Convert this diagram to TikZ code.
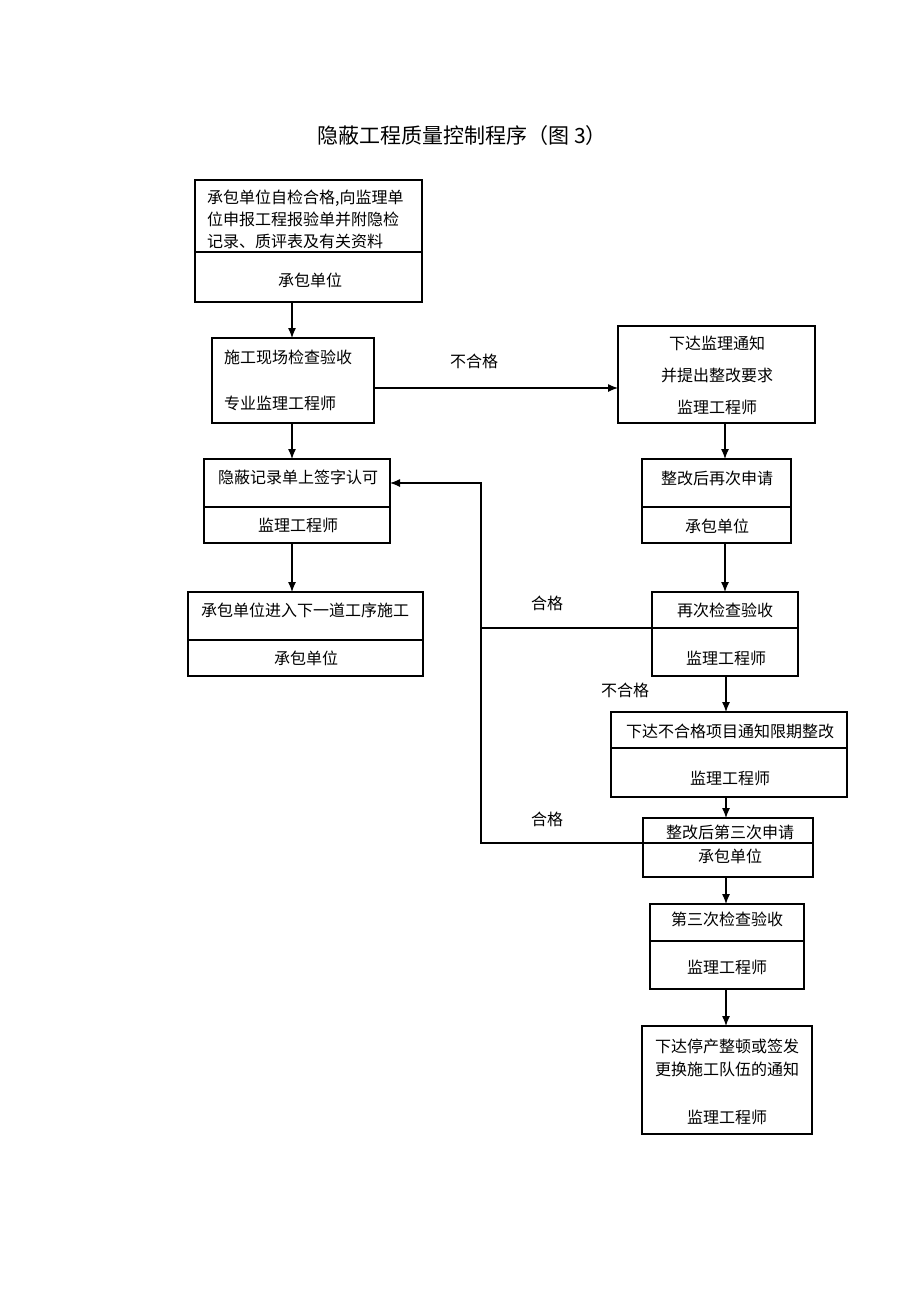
\documentclass[tikz,border=0pt]{standalone}
\usepackage{fontspec}
\newfontfamily\cjk{Noto Sans CJK SC}
\usetikzlibrary{arrows.meta}
\begin{document}
\begin{tikzpicture}[x=1pt,y=-1pt,
  box/.style={draw, line width=1.2pt, inner sep=0pt, outer sep=0pt, anchor=north west},
  txt/.style={inner sep=0pt, font=\cjk\fontsize{16}{22}\selectfont},
  lbl/.style={inner sep=0pt, font=\cjk\fontsize{16}{20}\selectfont},
  ttl/.style={inner sep=0pt, font=\cjk\fontsize{21}{24}\selectfont},
  conn/.style={line width=1.2pt},
  arr/.style={line width=1.2pt, -{Latex[length=10pt,width=8pt]}}]
\useasboundingbox (0,0) rectangle (920,1302);
% title
\node[ttl] (title) at (462,136) {隐蔽工程质量控制程序（图 3）};
% boxes
\node[box, minimum width=227pt, minimum height=122pt] (b1) at (195,180) {};
\node[box, minimum width=162pt, minimum height=85pt] (b2) at (212,338) {};
\node[box, minimum width=197pt, minimum height=97pt] (b3) at (618,326) {};
\node[box, minimum width=186pt, minimum height=84pt] (b4) at (204,459) {};
\node[box, minimum width=149pt, minimum height=84pt] (b5) at (642,459) {};
\node[box, minimum width=235pt, minimum height=84pt] (b6) at (188,592) {};
\node[box, minimum width=146pt, minimum height=84pt] (b7) at (652,592) {};
\node[box, minimum width=236pt, minimum height=85pt] (b8) at (611,712) {};
\node[box, minimum width=170pt, minimum height=59pt] (b9) at (643,818) {};
\node[box, minimum width=154pt, minimum height=85pt] (b10) at (650,904) {};
\node[box, minimum width=170pt, minimum height=108pt] (b11) at (642,1026) {};
% dividers
\coordinate (d1) at (0,252);
\coordinate (d4) at (0,507);
\coordinate (d6) at (0,640);
\coordinate (d7) at (0,628);
\coordinate (d8) at (0,748);
\coordinate (d9) at (0,843);
\coordinate (d10) at (0,941);
\draw[conn] (b1.west |- d1) -- (b1.east |- d1);
\draw[conn] (b4.west |- d4) -- (b4.east |- d4);
\draw[conn] (b5.west |- d4) -- (b5.east |- d4);
\draw[conn] (b6.west |- d6) -- (b6.east |- d6);
\draw[conn] (b7.west |- d7) -- (b7.east |- d7);
\draw[conn] (b8.west |- d8) -- (b8.east |- d8);
\draw[conn] (b9.west |- d9) -- (b9.east |- d9);
\draw[conn] (b10.west |- d10) -- (b10.east |- d10);
% texts
\node[txt, anchor=west, align=left] (t1a) at (207,219) {承包单位自检合格,向监理单\\位申报工程报验单并附隐检\\记录、质评表及有关资料};
\node[txt] (t1b) at (310,280) {承包单位};
\node[txt, anchor=west] (t2a) at (224,357) {施工现场检查验收};
\node[txt, anchor=west] (t2b) at (224,403) {专业监理工程师};
\node[txt] (t3a) at (717,343) {下达监理通知};
\node[txt] (t3b) at (717,375) {并提出整改要求};
\node[txt] (t3c) at (717,407) {监理工程师};
\node[txt] (t4a) at (298,477) {隐蔽记录单上签字认可};
\node[txt] (t4b) at (298,525) {监理工程师};
\node[txt] (t5a) at (717,478) {整改后再次申请};
\node[txt] (t5b) at (717,526) {承包单位};
\node[txt] (t6a) at (305,610) {承包单位进入下一道工序施工};
\node[txt] (t6b) at (306,658) {承包单位};
\node[txt] (t7a) at (725,610) {再次检查验收};
\node[txt] (t7b) at (726,658) {监理工程师};
\node[txt] (t8a) at (730,731) {下达不合格项目通知限期整改};
\node[txt] (t8b) at (730,778) {监理工程师};
\node[txt] (t9a) at (730,832) {整改后第三次申请};
\node[txt] (t9b) at (730,856) {承包单位};
\node[txt] (t10a) at (727,919) {第三次检查验收};
\node[txt] (t10b) at (727,967) {监理工程师};
\node[txt] (t11a) at (727,1046) {下达停产整顿或签发};
\node[txt] (t11b) at (727,1069) {更换施工队伍的通知};
\node[txt] (t11c) at (727,1117) {监理工程师};
% labels
\node[lbl] (l1) at (474,361) {不合格};
\node[lbl] (l2) at (547,603) {合格};
\node[lbl] (l3) at (625,690) {不合格};
\node[lbl] (l4) at (547,819) {合格};
% connector columns
\coordinate (cl) at (292,0);
\coordinate (cr) at (725,0);
\coordinate (cr2) at (726,0);
\coordinate (h1) at (0,388);
\draw[arr] (b1.south -| cl) -- (b2.north -| cl);
\draw[arr] (b2.south -| cl) -- (b4.north -| cl);
\draw[arr] (b4.south -| cl) -- (b6.north -| cl);
\draw[arr] (b2.east |- h1) -- (b3.west |- h1);
\draw[arr] (b3.south -| cr) -- (b5.north -| cr);
\draw[arr] (b5.south -| cr) -- (b7.north -| cr);
\draw[arr] (b7.south -| cr2) -- (b8.north -| cr2);
\draw[arr] (b8.south -| cr2) -- (b9.north -| cr2);
\draw[arr] (b9.south -| cr2) -- (b10.north -| cr2);
\draw[arr] (b10.south -| cr2) -- (b11.north -| cr2);
% feedback
\coordinate (j1) at (481,628);
\coordinate (j2) at (481,843);
\coordinate (j3) at (481,483);
\draw[conn] (b7.west |- j1) -- (j1);
\draw[arr] (b9.west |- j2) -- (j2) -- (j3) -- (b4.east |- j3);
\end{tikzpicture}
\end{document}
